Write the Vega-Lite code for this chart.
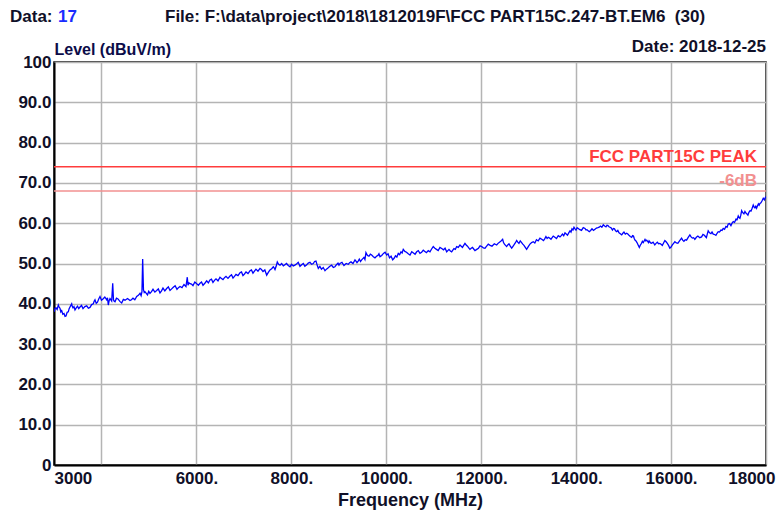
{
  "$schema": "https://vega.github.io/schema/vega-lite/v6.json",
  "width": 712,
  "height": 403,
  "autosize": {"type": "none"},
  "padding": {"left": 54, "top": 62, "right": 12, "bottom": 48},
  "background": "white",
  "config": {
    "font": "Liberation Sans",
    "view": {"stroke": "#000000", "strokeWidth": 1.5}
  },
  "datasets": {
    "trace": [
      {"freq":3000,"level":38.0},{"freq":3021,"level":38.9},{"freq":3042,"level":39.0},{"freq":3066,"level":38.6},{"freq":3091,"level":39.7},{"freq":3108,"level":39.2},
      {"freq":3126,"level":38.9},{"freq":3144,"level":38.0},{"freq":3162,"level":38.3},{"freq":3186,"level":37.4},{"freq":3211,"level":37.6},{"freq":3232,"level":36.9},
      {"freq":3253,"level":37.0},{"freq":3277,"level":37.9},{"freq":3301,"level":38.0},{"freq":3319,"level":38.8},{"freq":3337,"level":39.2},{"freq":3355,"level":39.6},
      {"freq":3373,"level":40.0},{"freq":3386,"level":39.3},{"freq":3400,"level":39.0},{"freq":3421,"level":39.3},{"freq":3442,"level":38.5},{"freq":3468,"level":39.0},
      {"freq":3495,"level":39.4},{"freq":3521,"level":38.8},{"freq":3548,"level":39.2},{"freq":3580,"level":39.6},{"freq":3611,"level":38.8},{"freq":3650,"level":39.3},
      {"freq":3689,"level":39.5},{"freq":3724,"level":38.9},{"freq":3758,"level":39.1},{"freq":3793,"level":39.8},{"freq":3828,"level":40.0},{"freq":3846,"level":40.6},
      {"freq":3864,"level":41.0},{"freq":3890,"level":40.1},{"freq":3916,"level":40.4},{"freq":3942,"level":41.2},{"freq":3969,"level":41.8},{"freq":4000,"level":40.9},
      {"freq":4032,"level":41.2},{"freq":4071,"level":41.7},{"freq":4110,"level":41.0},{"freq":4127,"level":41.5},{"freq":4144,"level":39.7},{"freq":4162,"level":40.8},
      {"freq":4180,"level":41.3},{"freq":4215,"level":40.7},{"freq":4237,"level":45.1},{"freq":4253,"level":41.0},{"freq":4269,"level":40.6},{"freq":4285,"level":40.5},
      {"freq":4316,"level":41.4},{"freq":4348,"level":41.2},{"freq":4387,"level":40.6},{"freq":4426,"level":40.2},{"freq":4461,"level":41.1},{"freq":4496,"level":40.9},
      {"freq":4549,"level":41.3},{"freq":4601,"level":40.8},{"freq":4632,"level":41.0},{"freq":4664,"level":41.4},{"freq":4703,"level":41.0},{"freq":4742,"level":41.8},
      {"freq":4777,"level":42.1},{"freq":4812,"level":42.6},{"freq":4835,"level":42.0},{"freq":4853,"level":43.0},{"freq":4868,"level":51.1},{"freq":4885,"level":43.5},
      {"freq":4901,"level":42.8},{"freq":4917,"level":43.0},{"freq":4944,"level":42.6},{"freq":4970,"level":42.2},{"freq":4996,"level":43.1},{"freq":5022,"level":42.6},
      {"freq":5054,"level":43.0},{"freq":5086,"level":43.6},{"freq":5125,"level":42.9},{"freq":5163,"level":43.3},{"freq":5198,"level":43.7},{"freq":5233,"level":42.7},
      {"freq":5265,"level":43.2},{"freq":5296,"level":43.9},{"freq":5335,"level":43.2},{"freq":5374,"level":43.8},{"freq":5409,"level":44.2},{"freq":5444,"level":43.3},
      {"freq":5479,"level":43.7},{"freq":5513,"level":44.1},{"freq":5552,"level":44.5},{"freq":5591,"level":43.6},{"freq":5622,"level":44.0},{"freq":5654,"level":44.3},
      {"freq":5697,"level":44.0},{"freq":5739,"level":44.8},{"freq":5780,"level":44.3},{"freq":5808,"level":46.6},{"freq":5823,"level":44.6},{"freq":5844,"level":45.2},
      {"freq":5865,"level":45.0},{"freq":5897,"level":44.9},{"freq":5928,"level":44.5},{"freq":5967,"level":45.4},{"freq":6006,"level":45.0},{"freq":6041,"level":44.6},
      {"freq":6076,"level":45.1},{"freq":6108,"level":45.4},{"freq":6139,"level":44.6},{"freq":6178,"level":45.1},{"freq":6217,"level":45.7},{"freq":6252,"level":45.2},
      {"freq":6286,"level":45.9},{"freq":6318,"level":46.1},{"freq":6349,"level":45.3},{"freq":6381,"level":45.8},{"freq":6413,"level":46.2},{"freq":6455,"level":45.7},
      {"freq":6497,"level":46.6},{"freq":6528,"level":46.3},{"freq":6560,"level":46.0},{"freq":6592,"level":46.5},{"freq":6623,"level":46.8},{"freq":6665,"level":46.3},
      {"freq":6708,"level":46.9},{"freq":6740,"level":47.2},{"freq":6771,"level":46.4},{"freq":6802,"level":46.8},{"freq":6834,"level":47.3},{"freq":6876,"level":47.0},
      {"freq":6918,"level":47.7},{"freq":6950,"level":47.9},{"freq":6981,"level":47.0},{"freq":7013,"level":47.4},{"freq":7045,"level":47.9},{"freq":7087,"level":47.5},
      {"freq":7129,"level":48.2},{"freq":7160,"level":48.4},{"freq":7192,"level":47.6},{"freq":7223,"level":48.1},{"freq":7255,"level":48.6},{"freq":7297,"level":48.1},
      {"freq":7340,"level":48.8},{"freq":7371,"level":48.5},{"freq":7403,"level":48.0},{"freq":7442,"level":48.4},{"freq":7481,"level":47.1},{"freq":7515,"level":47.8},
      {"freq":7550,"level":48.4},{"freq":7585,"level":48.7},{"freq":7620,"level":49.2},{"freq":7638,"level":48.9},{"freq":7656,"level":48.5},{"freq":7680,"level":49.3},
      {"freq":7704,"level":50.4},{"freq":7732,"level":49.8},{"freq":7761,"level":49.6},{"freq":7796,"level":50.0},{"freq":7831,"level":49.4},{"freq":7864,"level":49.7},
      {"freq":7898,"level":50.0},{"freq":7935,"level":49.5},{"freq":7972,"level":49.2},{"freq":8006,"level":49.8},{"freq":8041,"level":49.4},{"freq":8075,"level":49.6},
      {"freq":8109,"level":49.9},{"freq":8145,"level":50.3},{"freq":8182,"level":49.3},{"freq":8217,"level":49.7},{"freq":8252,"level":50.0},{"freq":8285,"level":49.3},
      {"freq":8319,"level":49.6},{"freq":8356,"level":50.1},{"freq":8393,"level":50.3},{"freq":8427,"level":49.8},{"freq":8462,"level":50.0},{"freq":8490,"level":50.5},
      {"freq":8519,"level":50.6},{"freq":8544,"level":49.6},{"freq":8568,"level":48.8},{"freq":8601,"level":49.3},{"freq":8635,"level":48.6},{"freq":8672,"level":49.0},
      {"freq":8709,"level":48.2},{"freq":8740,"level":48.6},{"freq":8772,"level":48.9},{"freq":8811,"level":49.3},{"freq":8850,"level":49.6},{"freq":8884,"level":49.0},
      {"freq":8919,"level":49.2},{"freq":8951,"level":49.7},{"freq":8983,"level":50.1},{"freq":9004,"level":49.6},{"freq":9025,"level":50.0},{"freq":9067,"level":50.3},
      {"freq":9109,"level":49.5},{"freq":9155,"level":50.0},{"freq":9200,"level":49.8},{"freq":9228,"level":50.2},{"freq":9257,"level":50.4},{"freq":9299,"level":50.0},
      {"freq":9341,"level":50.9},{"freq":9362,"level":50.6},{"freq":9383,"level":50.2},{"freq":9408,"level":50.6},{"freq":9432,"level":51.1},{"freq":9457,"level":50.5},
      {"freq":9482,"level":50.9},{"freq":9506,"level":51.2},{"freq":9530,"level":51.5},{"freq":9551,"level":51.0},{"freq":9572,"level":52.7},{"freq":9604,"level":52.0},
      {"freq":9636,"level":51.8},{"freq":9664,"level":52.3},{"freq":9693,"level":52.1},{"freq":9728,"level":51.7},{"freq":9762,"level":51.4},{"freq":9794,"level":51.8},
      {"freq":9825,"level":52.0},{"freq":9846,"level":52.4},{"freq":9868,"level":51.7},{"freq":9904,"level":52.0},{"freq":9941,"level":52.5},{"freq":9975,"level":52.8},
      {"freq":10009,"level":52.1},{"freq":10038,"level":52.4},{"freq":10068,"level":51.4},{"freq":10101,"level":51.8},{"freq":10135,"level":50.9},{"freq":10165,"level":51.3},
      {"freq":10194,"level":51.9},{"freq":10223,"level":51.6},{"freq":10253,"level":52.5},{"freq":10282,"level":52.2},{"freq":10310,"level":52.9},{"freq":10334,"level":52.6},
      {"freq":10358,"level":53.5},{"freq":10392,"level":53.0},{"freq":10426,"level":52.8},{"freq":10463,"level":52.4},{"freq":10500,"level":52.1},{"freq":10537,"level":52.9},
      {"freq":10573,"level":52.6},{"freq":10607,"level":52.3},{"freq":10641,"level":52.9},{"freq":10675,"level":53.2},{"freq":10710,"level":52.5},{"freq":10745,"level":52.8},
      {"freq":10780,"level":53.3},{"freq":10813,"level":53.0},{"freq":10847,"level":52.7},{"freq":10884,"level":53.2},{"freq":10921,"level":52.9},{"freq":10955,"level":53.6},
      {"freq":10990,"level":54.2},{"freq":11024,"level":53.8},{"freq":11058,"level":53.5},{"freq":11094,"level":53.2},{"freq":11131,"level":54.0},{"freq":11168,"level":53.7},
      {"freq":11205,"level":53.4},{"freq":11239,"level":53.8},{"freq":11273,"level":52.9},{"freq":11297,"level":53.2},{"freq":11321,"level":53.5},{"freq":11350,"level":53.1},
      {"freq":11378,"level":52.9},{"freq":11402,"level":53.3},{"freq":11426,"level":53.7},{"freq":11455,"level":53.5},{"freq":11483,"level":54.2},{"freq":11518,"level":54.0},
      {"freq":11553,"level":54.6},{"freq":11579,"level":54.3},{"freq":11605,"level":54.0},{"freq":11631,"level":54.5},{"freq":11658,"level":55.0},{"freq":11684,"level":54.6},
      {"freq":11711,"level":54.3},{"freq":11737,"level":53.9},{"freq":11763,"level":53.5},{"freq":11789,"level":53.8},{"freq":11816,"level":54.0},{"freq":11842,"level":53.6},
      {"freq":11869,"level":53.2},{"freq":11906,"level":53.5},{"freq":11943,"level":53.8},{"freq":11976,"level":54.4},{"freq":12010,"level":54.2},{"freq":12045,"level":53.9},
      {"freq":12080,"level":53.8},{"freq":12115,"level":54.3},{"freq":12149,"level":54.8},{"freq":12188,"level":54.5},{"freq":12227,"level":54.3},{"freq":12276,"level":54.9},
      {"freq":12326,"level":54.6},{"freq":12355,"level":55.0},{"freq":12385,"level":55.3},{"freq":12418,"level":55.6},{"freq":12452,"level":56.0},{"freq":12470,"level":55.2},
      {"freq":12490,"level":54.8},{"freq":12513,"level":54.5},{"freq":12536,"level":54.2},{"freq":12560,"level":54.6},{"freq":12585,"level":54.9},{"freq":12613,"level":54.3},
      {"freq":12642,"level":53.8},{"freq":12666,"level":54.2},{"freq":12690,"level":54.6},{"freq":12718,"level":55.1},{"freq":12747,"level":55.7},{"freq":12771,"level":55.3},
      {"freq":12795,"level":55.0},{"freq":12823,"level":55.6},{"freq":12852,"level":55.2},{"freq":12876,"level":54.8},{"freq":12901,"level":54.5},{"freq":12929,"level":54.0},
      {"freq":12957,"level":53.5},{"freq":12992,"level":54.2},{"freq":13027,"level":54.8},{"freq":13062,"level":55.2},{"freq":13097,"level":55.4},{"freq":13130,"level":55.1},
      {"freq":13164,"level":55.9},{"freq":13201,"level":55.6},{"freq":13238,"level":56.3},{"freq":13275,"level":56.0},{"freq":13312,"level":55.7},{"freq":13338,"level":56.1},
      {"freq":13364,"level":56.7},{"freq":13388,"level":56.2},{"freq":13413,"level":56.5},{"freq":13441,"level":56.3},{"freq":13470,"level":56.0},{"freq":13494,"level":56.4},
      {"freq":13518,"level":56.8},{"freq":13552,"level":56.5},{"freq":13586,"level":56.2},{"freq":13623,"level":56.9},{"freq":13660,"level":56.6},{"freq":13686,"level":56.9},
      {"freq":13712,"level":57.3},{"freq":13738,"level":56.9},{"freq":13765,"level":57.6},{"freq":13791,"level":57.3},{"freq":13818,"level":57.0},{"freq":13844,"level":57.6},
      {"freq":13871,"level":58.1},{"freq":13892,"level":57.8},{"freq":13913,"level":58.6},{"freq":13934,"level":58.3},{"freq":13955,"level":59.0},{"freq":13976,"level":58.6},
      {"freq":13997,"level":58.3},{"freq":14021,"level":58.9},{"freq":14045,"level":58.7},{"freq":14079,"level":58.4},{"freq":14113,"level":58.2},{"freq":14150,"level":58.9},
      {"freq":14187,"level":58.7},{"freq":14208,"level":58.3},{"freq":14229,"level":58.4},{"freq":14253,"level":58.1},{"freq":14277,"level":57.9},{"freq":14305,"level":58.2},
      {"freq":14334,"level":58.6},{"freq":14365,"level":58.2},{"freq":14397,"level":58.5},{"freq":14428,"level":58.8},{"freq":14460,"level":58.9},{"freq":14486,"level":59.0},
      {"freq":14513,"level":59.3},{"freq":14542,"level":59.0},{"freq":14572,"level":59.6},{"freq":14600,"level":59.3},{"freq":14629,"level":59.1},{"freq":14650,"level":59.5},
      {"freq":14671,"level":59.4},{"freq":14692,"level":59.1},{"freq":14713,"level":59.0},{"freq":14740,"level":58.8},{"freq":14766,"level":58.3},{"freq":14787,"level":58.7},
      {"freq":14808,"level":58.6},{"freq":14831,"level":58.1},{"freq":14854,"level":57.9},{"freq":14878,"level":58.2},{"freq":14903,"level":57.6},{"freq":14931,"level":57.4},
      {"freq":14960,"level":57.1},{"freq":14984,"level":57.5},{"freq":15008,"level":57.8},{"freq":15036,"level":57.3},{"freq":15065,"level":57.5},{"freq":15089,"level":57.3},
      {"freq":15113,"level":57.0},{"freq":15141,"level":56.7},{"freq":15170,"level":56.5},{"freq":15189,"level":56.9},{"freq":15208,"level":56.8},{"freq":15224,"level":56.2},
      {"freq":15240,"level":55.8},{"freq":15261,"level":55.6},{"freq":15282,"level":55.2},{"freq":15306,"level":54.6},{"freq":15331,"level":54.0},{"freq":15354,"level":54.6},
      {"freq":15377,"level":55.0},{"freq":15396,"level":55.5},{"freq":15415,"level":55.2},{"freq":15433,"level":55.6},{"freq":15451,"level":56.0},{"freq":15469,"level":55.6},
      {"freq":15487,"level":55.8},{"freq":15506,"level":55.5},{"freq":15525,"level":55.2},{"freq":15537,"level":55.6},{"freq":15550,"level":55.4},{"freq":15569,"level":55.1},
      {"freq":15588,"level":55.0},{"freq":15622,"level":55.3},{"freq":15657,"level":54.6},{"freq":15683,"level":55.0},{"freq":15710,"level":55.3},{"freq":15736,"level":54.9},
      {"freq":15763,"level":55.0},{"freq":15789,"level":54.8},{"freq":15816,"level":54.5},{"freq":15842,"level":55.1},{"freq":15869,"level":55.7},{"freq":15895,"level":55.4},
      {"freq":15921,"level":55.0},{"freq":15947,"level":54.5},{"freq":15974,"level":53.8},{"freq":16000,"level":54.1},{"freq":16027,"level":54.6},{"freq":16053,"level":55.0},
      {"freq":16080,"level":55.4},{"freq":16111,"level":55.1},{"freq":16143,"level":55.0},{"freq":16182,"level":55.7},{"freq":16221,"level":56.3},{"freq":16245,"level":55.8},
      {"freq":16270,"level":55.5},{"freq":16298,"level":55.9},{"freq":16326,"level":55.8},{"freq":16361,"level":56.5},{"freq":16396,"level":57.1},{"freq":16422,"level":56.6},
      {"freq":16449,"level":56.3},{"freq":16475,"level":56.4},{"freq":16501,"level":56.0},{"freq":16533,"level":56.5},{"freq":16565,"level":56.8},{"freq":16604,"level":56.4},
      {"freq":16643,"level":56.6},{"freq":16672,"level":57.2},{"freq":16702,"level":57.0},{"freq":16723,"level":56.7},{"freq":16744,"level":56.4},{"freq":16763,"level":57.3},
      {"freq":16782,"level":58.1},{"freq":16810,"level":57.6},{"freq":16839,"level":57.4},{"freq":16863,"level":57.8},{"freq":16888,"level":57.3},{"freq":16916,"level":57.2},
      {"freq":16945,"level":57.0},{"freq":16969,"level":57.5},{"freq":16993,"level":57.9},{"freq":17021,"level":57.8},{"freq":17050,"level":58.3},{"freq":17074,"level":58.2},
      {"freq":17099,"level":58.7},{"freq":17127,"level":58.5},{"freq":17155,"level":59.2},{"freq":17180,"level":59.0},{"freq":17204,"level":59.8},{"freq":17232,"level":59.9},
      {"freq":17261,"level":59.4},{"freq":17285,"level":60.0},{"freq":17310,"level":60.4},{"freq":17338,"level":60.2},{"freq":17367,"level":61.0},{"freq":17391,"level":60.9},
      {"freq":17415,"level":61.8},{"freq":17433,"level":61.4},{"freq":17451,"level":61.2},{"freq":17469,"level":62.0},{"freq":17487,"level":63.1},{"freq":17511,"level":62.6},
      {"freq":17535,"level":62.3},{"freq":17556,"level":62.9},{"freq":17577,"level":62.5},{"freq":17598,"level":62.3},{"freq":17619,"level":62.0},{"freq":17640,"level":62.7},
      {"freq":17662,"level":63.1},{"freq":17683,"level":63.0},{"freq":17704,"level":63.6},{"freq":17731,"level":64.5},{"freq":17749,"level":64.0},{"freq":17767,"level":63.8},
      {"freq":17785,"level":64.2},{"freq":17802,"level":63.7},{"freq":17821,"level":64.3},{"freq":17840,"level":64.8},{"freq":17856,"level":64.5},{"freq":17872,"level":64.9},
      {"freq":17888,"level":65.0},{"freq":17904,"level":65.3},{"freq":17923,"level":65.7},{"freq":17942,"level":66.2},{"freq":17967,"level":65.8},{"freq":17984,"level":66.3},
      {"freq":18000,"level":66.6}
    ],
    "limits": [
      {"name": "FCC PART15C PEAK", "level": 74},
      {"name": "-6dB", "level": 68}
    ]
  },
  "layer": [
    {
      "data": {"name": "trace"},
      "mark": {"type": "line", "color": "#0000ff", "strokeWidth": 1.3, "clip": true},
      "encoding": {
        "x": {
          "field": "freq",
          "type": "quantitative",
          "scale": {"domain": [3000, 18000], "nice": false, "zero": false},
          "axis": {
            "values": [3000, 4000, 6000, 8000, 10000, 12000, 14000, 16000, 18000],
            "labelExpr": "datum.value == 4000 ? '' : ((datum.value == 3000 || datum.value == 18000) ? '' + datum.value : datum.value + '.')",
            "labelFlush": true,
            "labelOffset": {"condition": {"test": "datum.value == 18000", "value": 9}, "value": 0},
            "labelFont": "Liberation Sans",
            "labelFontSize": 17,
            "labelFontWeight": "bold",
            "labelColor": "#101028",
            "labelPadding": 5,
            "ticks": false,
            "grid": true,
            "gridColor": "#b4b4b4",
            "gridWidth": 1.5,
            "domainColor": "#000000",
            "domainWidth": 2,
            "title": "Frequency (MHz)",
            "titleFont": "Liberation Sans",
            "titleFontSize": 18,
            "titleFontWeight": "bold",
            "titleColor": "#101028",
            "titlePadding": 5
          }
        },
        "y": {
          "field": "level",
          "type": "quantitative",
          "scale": {"domain": [0, 100], "nice": false},
          "axis": {
            "values": [0, 10, 20, 30, 40, 50, 60, 70, 80, 90, 100],
            "labelExpr": "(datum.value == 0 || datum.value == 100) ? '' + datum.value : format(datum.value, '.1f')",
            "labelFont": "Liberation Sans",
            "labelFontSize": 17,
            "labelFontWeight": "bold",
            "labelColor": "#101028",
            "labelPadding": 3,
            "ticks": false,
            "grid": true,
            "gridColor": "#b4b4b4",
            "gridWidth": 1.5,
            "domainColor": "#000000",
            "domainWidth": 2,
            "title": "Level (dBuV/m)",
            "titleFont": "Liberation Sans",
            "titleFontSize": 16,
            "titleFontWeight": "bold",
            "titleColor": "#0c0c48",
            "titleAngle": 0,
            "titleAlign": "left",
            "titleBaseline": "middle",
            "titleX": 0,
            "titleY": -13
          }
        }
      }
    },
    {
      "data": {"name": "limits"},
      "mark": {"type": "rule", "strokeWidth": 1.5},
      "encoding": {
        "y": {"field": "level", "type": "quantitative"},
        "color": {
          "field": "name",
          "type": "nominal",
          "scale": {"domain": ["FCC PART15C PEAK", "-6dB"], "range": ["#ff3c3c", "#f29090"]},
          "legend": null
        }
      }
    },
    {
      "data": {"name": "limits"},
      "mark": {"type": "text", "align": "right", "baseline": "alphabetic", "dx": -9, "dy": -5, "font": "Liberation Sans", "fontSize": 17, "fontWeight": "bold"},
      "encoding": {
        "x": {"datum": 18000, "type": "quantitative"},
        "y": {"field": "level", "type": "quantitative"},
        "text": {"field": "name"},
        "color": {
          "field": "name",
          "type": "nominal",
          "scale": {"domain": ["FCC PART15C PEAK", "-6dB"], "range": ["#ff1e1e", "#f2886e"]},
          "legend": null
        }
      }
    },
    {
      "data": {"values": [{"label": "Data:"}]},
      "mark": {"type": "text", "align": "left", "baseline": "middle", "dx": -44, "dy": -45, "font": "Liberation Sans", "fontSize": 17, "fontWeight": "bold", "color": "#101028"},
      "encoding": {
        "x": {"datum": 3000, "type": "quantitative"},
        "y": {"datum": 100, "type": "quantitative"},
        "text": {"field": "label"}
      }
    },
    {
      "data": {"values": [{"label": "17"}]},
      "mark": {"type": "text", "align": "left", "baseline": "middle", "dx": 4, "dy": -45, "font": "Liberation Sans", "fontSize": 17, "fontWeight": "bold", "color": "#1a2cff"},
      "encoding": {
        "x": {"datum": 3000, "type": "quantitative"},
        "y": {"datum": 100, "type": "quantitative"},
        "text": {"field": "label"}
      }
    },
    {
      "data": {"values": [{"label": "File: F:\\data\\project\\2018\\1812019F\\FCC PART15C.247-BT.EM6\u00a0 (30)"}]},
      "mark": {"type": "text", "align": "left", "baseline": "middle", "dx": 111, "dy": -45, "font": "Liberation Sans", "fontSize": 17, "fontWeight": "bold", "color": "#101028"},
      "encoding": {
        "x": {"datum": 3000, "type": "quantitative"},
        "y": {"datum": 100, "type": "quantitative"},
        "text": {"field": "label"}
      }
    },
    {
      "data": {"values": [{"label": "Date: 2018-12-25"}]},
      "mark": {"type": "text", "align": "right", "baseline": "middle", "dx": 0, "dy": -15, "font": "Liberation Sans", "fontSize": 17, "fontWeight": "bold", "color": "#101028"},
      "encoding": {
        "x": {"datum": 18000, "type": "quantitative"},
        "y": {"datum": 100, "type": "quantitative"},
        "text": {"field": "label"}
      }
    }
  ]
}
